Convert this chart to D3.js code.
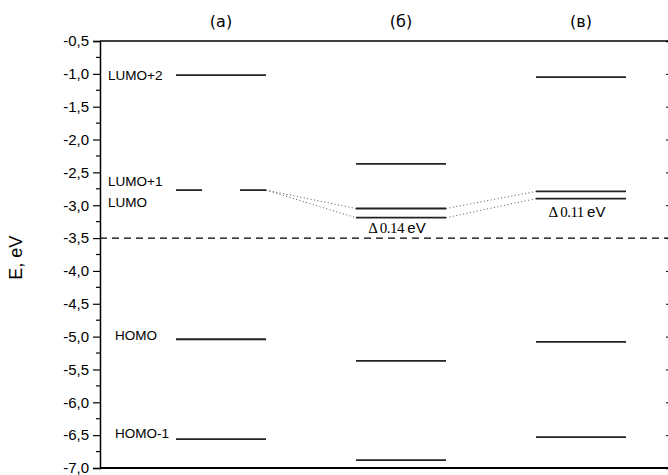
<!DOCTYPE html>
<html>
<head>
<meta charset="utf-8">
<script src="https://cdn.jsdelivr.net/npm/d3@7"></script>
<style>
  body { margin: 0; background: #fff; }
  text { font-family: "Liberation Sans", Arial, sans-serif; }
</style>
</head>
<body>
<div id="chart"></div>
<script>
// columns and energy levels (eV)
var columns = ["(а)", "(б)", "(в)"];
var levelsA = [-1.02, -2.77, -5.04, -6.56];
var levelsB = [-2.37, -3.05, -3.19, -5.37, -6.88];
var levelsC = [-1.05, -2.79, -2.90, -5.08, -6.53];
var levelNames = ["LUMO+2", "LUMO+1", "LUMO", "HOMO", "HOMO-1"];
var nameEnergy = [-1.02, -2.63, -2.95, -4.98, -6.47];
var fermi = -3.5;
var yTicks = [-7.0, -6.5, -6.0, -5.5, -5.0, -4.5, -4.0, -3.5, -3.0, -2.5, -2.0, -1.5, -1.0, -0.5];
var gaps = [{col: 1, text: "0.14", e: -3.42}, {col: 2, text: "0.11", e: -3.18}];
// dotted connections: [from column, from level index, to column, to level index]
var links = [[0, 1, 1, 1], [0, 1, 1, 2], [1, 1, 2, 1], [1, 2, 2, 2]];

var allLevels = [levelsA, levelsB, levelsC];

var width = 668, height = 475;
var margin = {top: 41, right: -2, bottom: 7, left: 100};
var w = width - margin.left - margin.right,
    h = height - margin.top - margin.bottom;

var svg = d3.select("#chart").append("svg")
  .attr("width", width).attr("height", height)
  .append("g")
  .attr("transform", "translate(" + margin.left + "," + margin.top + ")");

var y = d3.scaleLinear().domain([-7, -0.5]).range([h, 0]);
var x = d3.scalePoint().domain(columns).range([121, 481]);
var half = 45;

var fmt = function(d) { return d3.format(".1f")(d).replace(".", ",").replace("−", "-"); };

// left axis
var yAxis = svg.append("g")
  .call(d3.axisLeft(y).tickValues(yTicks).tickFormat(fmt).tickSize(7).tickPadding(4));
yAxis.selectAll("text").style("font-size", "15px").attr("fill", "#000");
yAxis.select(".domain").attr("stroke-width", 1.5);
yAxis.selectAll(".tick line").attr("stroke-width", 1.2);

var minor = d3.range(-6.75, -0.5, 0.5);
svg.append("g").selectAll("line").data(minor).enter().append("line")
  .attr("x1", -4).attr("x2", 0)
  .attr("y1", function(d) { return y(d); }).attr("y2", function(d) { return y(d); })
  .attr("stroke", "#000").attr("stroke-width", 1.2);

// right axis (frame) with inward ticks
var rAxis = svg.append("g").attr("transform", "translate(" + w + ",0)")
  .call(d3.axisRight(y).tickValues(yTicks).tickFormat("").tickSize(-4));
rAxis.select(".domain").attr("stroke-width", 1.5);

// top and bottom frame
svg.append("line").attr("x1", 0).attr("x2", w).attr("y1", 0).attr("y2", 0)
  .attr("stroke", "#000").attr("stroke-width", 1.5);
svg.append("line").attr("x1", 0).attr("x2", w).attr("y1", h).attr("y2", h)
  .attr("stroke", "#000").attr("stroke-width", 2);

// column titles
svg.selectAll(".coltitle").data(columns).enter().append("text")
  .attr("x", function(d) { return x(d); })
  .attr("y", -14)
  .attr("text-anchor", "middle")
  .style("font-family", "'DejaVu Sans', sans-serif")
  .style("font-size", "16px")
  .text(function(d) { return d; });

// y label
svg.append("text")
  .attr("transform", "rotate(-90)")
  .attr("x", -(y(-3.8)))
  .attr("y", -78)
  .attr("text-anchor", "middle")
  .style("font-size", "18px")
  .text("E, eV");

// fermi dashed line
svg.append("line")
  .attr("x1", 0).attr("x2", w)
  .attr("y1", y(fermi)).attr("y2", y(fermi))
  .attr("stroke", "#000").attr("stroke-width", 1.3)
  .attr("stroke-dasharray", "7,5");

// dotted links
svg.selectAll(".link").data(links).enter().append("line")
  .attr("x1", function(d) { return x(columns[d[0]]) + half; })
  .attr("y1", function(d) { return y(allLevels[d[0]][d[1]]); })
  .attr("x2", function(d) { return x(columns[d[2]]) - half; })
  .attr("y2", function(d) { return y(allLevels[d[2]][d[3]]); })
  .attr("stroke", "#555").attr("stroke-width", 1)
  .attr("stroke-dasharray", "1,2.5");

// level lines
allLevels.forEach(function(levels, ci) {
  var cx = x(columns[ci]);
  levels.forEach(function(e, li) {
    var segs = (ci === 0 && li === 1)
      ? [[cx - half, cx - half + 26], [cx + half - 26, cx + half]]
      : [[cx - half, cx + half]];
    segs.forEach(function(s) {
      svg.append("line")
        .attr("x1", s[0]).attr("x2", s[1])
        .attr("y1", y(e)).attr("y2", y(e))
        .attr("stroke", "#222").attr("stroke-width", 1.8);
    });
  });
});

// level names
svg.selectAll(".lname").data(levelNames).enter().append("text")
  .attr("x", function(d, i) { return i < 3 ? 8 : 15; })
  .attr("y", function(d, i) { return y(nameEnergy[i]) + 5; })
  .style("font-size", "13.5px")
  .text(function(d) { return d; });

// gap annotations
var g = svg.selectAll(".gap").data(gaps).enter().append("text")
  .attr("x", function(d) { return x(columns[d.col]) - 4; })
  .attr("y", function(d) { return y(d.e); })
  .attr("text-anchor", "middle")
  .style("font-size", "15px")
  .style("font-family", "'Liberation Serif', serif");
g.append("tspan").text(function(d) { return "\u0394 " + d.text + " "; })
  .style("letter-spacing", "-0.5px");
g.append("tspan").text("eV").style("font-family", "'Liberation Sans', sans-serif");
</script>
</body>
</html>
